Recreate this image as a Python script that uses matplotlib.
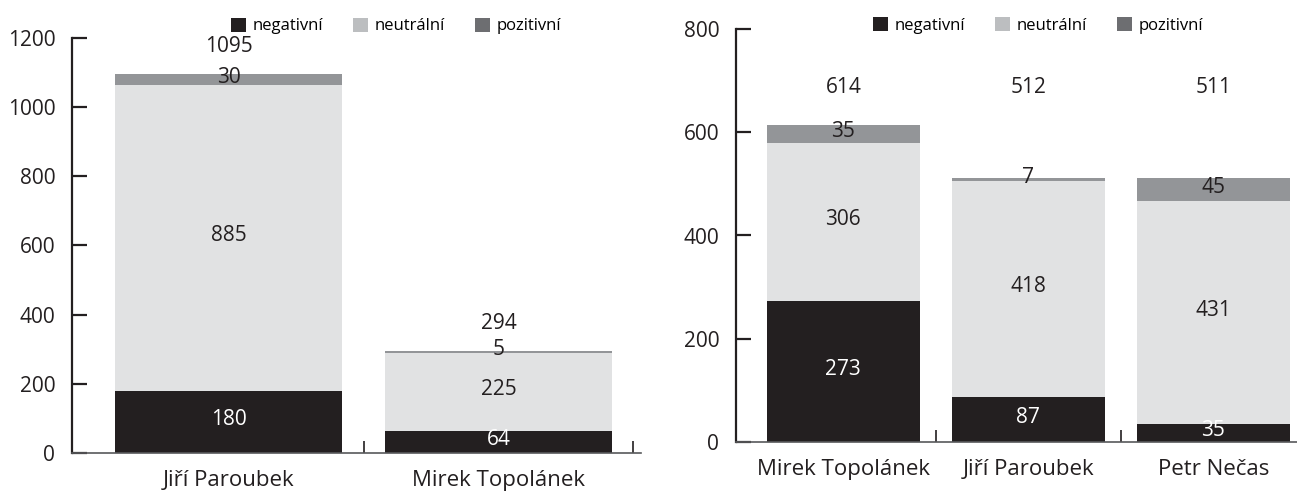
import numpy as np
import matplotlib
matplotlib.use('Agg')
import matplotlib.pyplot as plt
from matplotlib.patches import Patch

plt.rcParams['font.family'] = ['Open Sans', 'DejaVu Sans']

# left chart
names_l = ['Jiří Paroubek', 'Mirek Topolánek']
neg_l = [180, 64]
neu_l = [885, 225]
poz_l = [30, 5]
tot_l = [1095, 294]

# right chart
names_r = ['Mirek Topolánek', 'Jiří Paroubek', 'Petr Nečas']
neg_r = [273, 87, 35]
neu_r = [306, 418, 431]
poz_r = [35, 7, 45]
tot_r = [614, 512, 511]

series = ['negativní', 'neutrální', 'pozitivní']
bar_colors = ['#231f20', '#e1e2e3', '#939598']
leg_colors = ['#231f20', '#bcbec0', '#6d6e71']
txt_colors = ['white', '#231f20', '#231f20']

fig = plt.figure(figsize=(12.97, 4.92), dpi=100)
ax1 = fig.add_axes([72/1297, 39/492, 569/1297, 415/492])
ax2 = fig.add_axes([736/1297, 50/492, 570/1297, 413/492])


def draw(ax, names, neg, neu, poz, tot, ymax, width, xright, total_y, leg_x, leg_y):
    x = np.arange(len(names))
    bottom = np.zeros(len(names))
    for vals, col, tc in zip([neg, neu, poz], bar_colors, txt_colors):
        vals = np.array(vals, dtype=float)
        ax.bar(x, vals, width, bottom=bottom, color=col, zorder=2)
        for xi, b, v in zip(x, bottom, vals):
            ax.text(xi, b + v / 2 + ymax * 0.006, str(int(v)), ha='center', va='center',
                    fontsize=15, color=tc, zorder=3)
        bottom = bottom + vals
    for xi, t in zip(x, tot):
        ax.text(xi, total_y(t), str(t), ha='center', va='center', fontsize=15, color='#231f20')

    ax.set_xlim(-0.58, xright)
    ax.set_ylim(0, ymax)
    ax.set_yticks(np.arange(0, ymax + 1, 200))
    ax.set_xticks(x)
    ax.set_xticklabels(names)
    ax.set_xticks(np.arange(0.5, xright + 0.01, 1.0), minor=True)
    ax.tick_params(axis='x', which='major', length=0, pad=12, labelsize=16, colors='#231f20')
    ax.tick_params(axis='x', which='minor', direction='in', length=9, width=1.2, color='#231f20')
    ax.tick_params(axis='y', direction='in', length=11, width=1.6, pad=12, labelsize=15,
                   colors='#231f20')
    for s in ['top', 'right']:
        ax.spines[s].set_visible(False)
    ax.spines['left'].set_linewidth(1.6)
    ax.spines['left'].set_color('#231f20')
    ax.spines['bottom'].set_linewidth(1.2)
    ax.spines['bottom'].set_color('#58595b')
    handles = [Patch(facecolor=c, edgecolor='none', label=l) for c, l in zip(leg_colors, series)]
    ax.legend(handles=handles, loc='upper center', bbox_to_anchor=(leg_x, leg_y), ncol=3,
              frameon=False, fontsize=12, handlelength=0.9, handleheight=0.9,
              handletextpad=0.4, columnspacing=1.8)


draw(ax1, names_l, neg_l, neu_l, poz_l, tot_l, 1200, 0.84, 1.528,
     lambda t: t + 80, 0.57, 1.085)
draw(ax2, names_r, neg_r, neu_r, poz_r, tot_r, 800, 0.83, 2.5,
     lambda t: 686, 0.53, 1.065)

fig.savefig('out.png', dpi=100)
